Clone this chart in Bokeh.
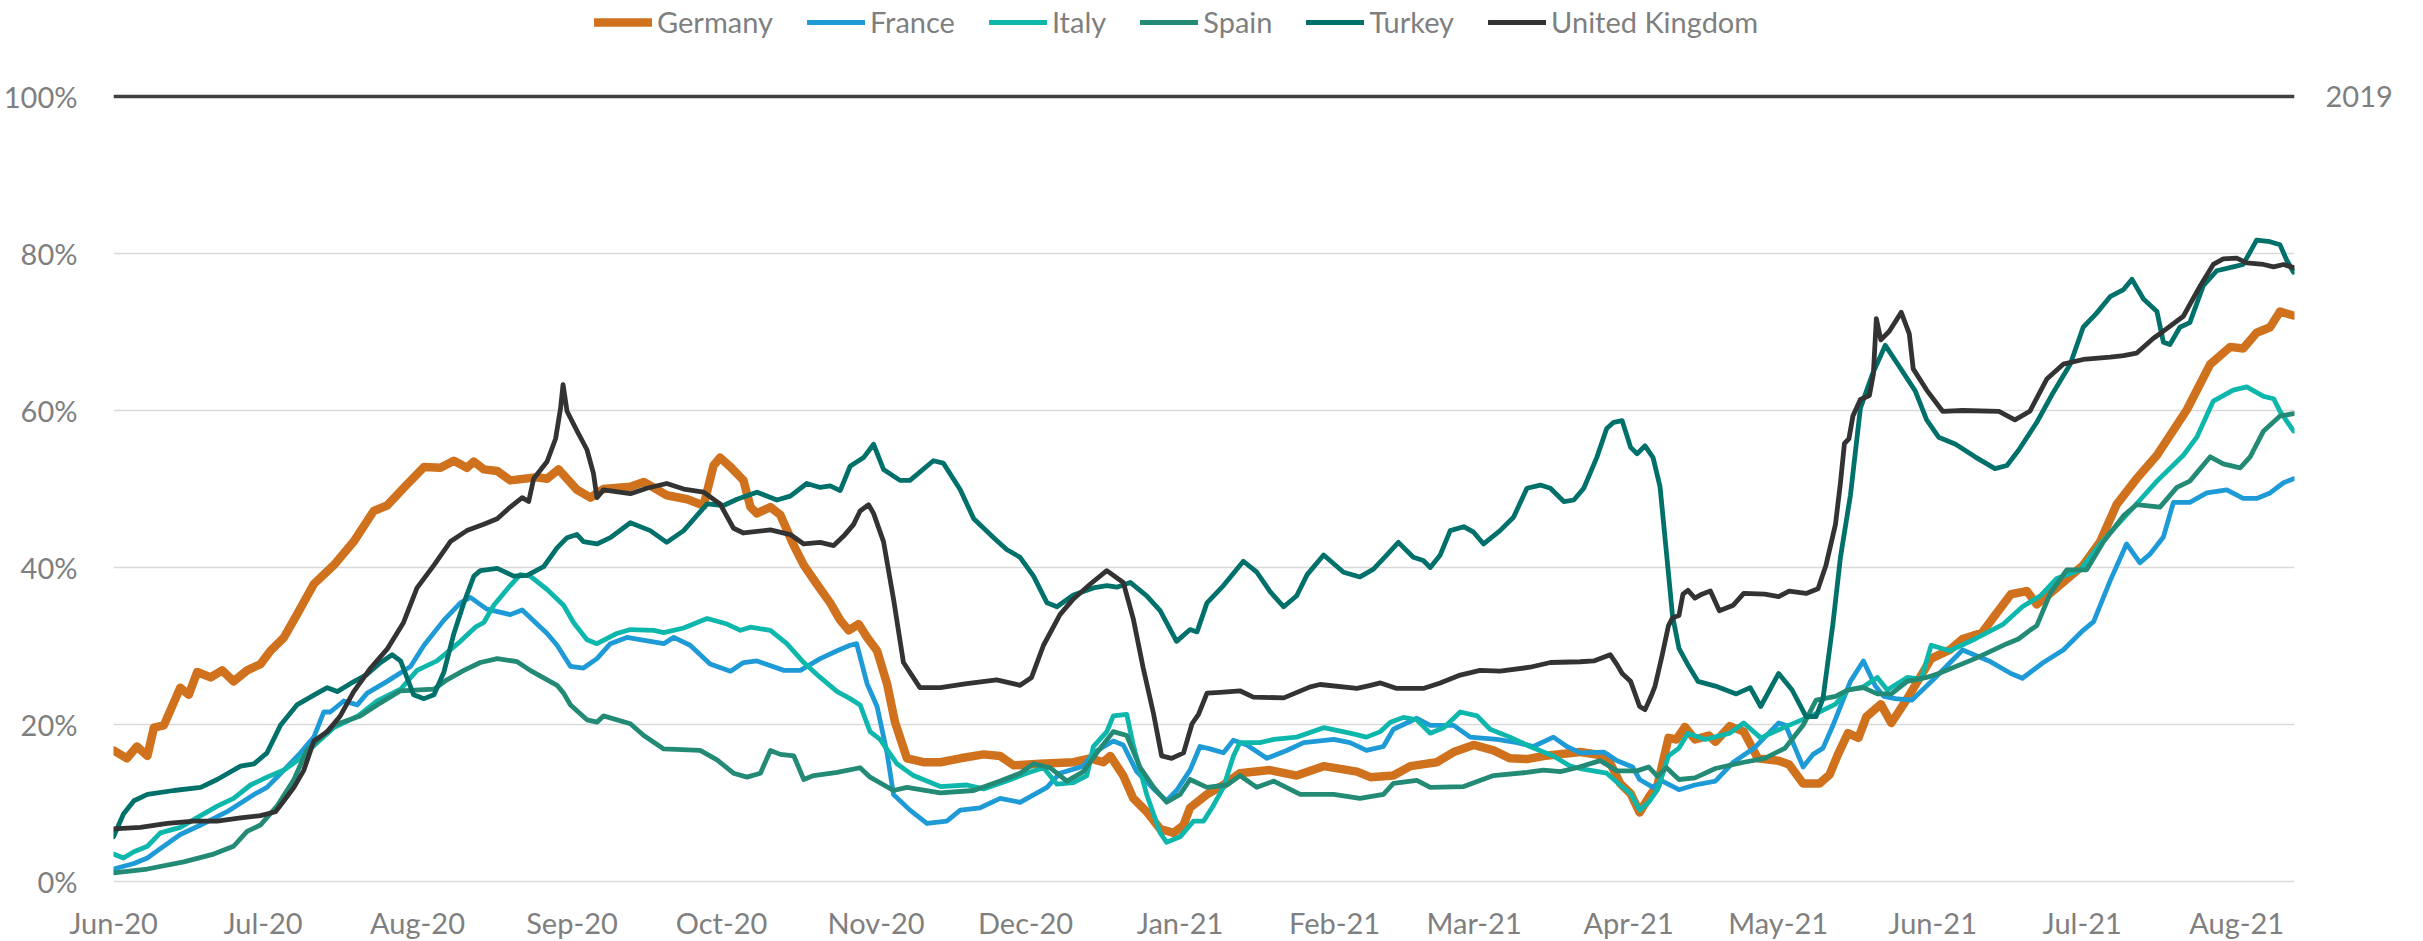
import numpy as np
import pandas as pd
from bokeh.plotting import figure
from bokeh.models import (Range1d, FixedTicker, LinearAxis, Span, Legend, LegendItem,
                          MonthsTicker, DatetimeTickFormatter)
from bokeh.embed import file_html
from bokeh.resources import INLINE

START = pd.Timestamp("2020-06-01")
END_DAY = 437.6

series_names = ["Germany", "France", "Italy", "Spain", "Turkey", "United Kingdom"]
series_colors = ["#D0711D", "#1E9BD7", "#0EB7AC", "#238A75", "#00706A", "#333333"]
series_widths = [8.5, 4.8, 4.8, 4.8, 4.8, 4.8]

y_ticks = [0, 20, 40, 60, 80, 100]
y_tick_labels = ["0%", "20%", "40%", "60%", "80%", "100%"]
baseline_value = 100
baseline_label = "2019"

germany_day = [0, 2.7, 4.7, 6.8, 8.1, 10.1, 13.4, 15.1, 16.8, 19.5, 21.8, 24.1, 26.8, 29.5, 31.5, 34.2, 36.8, 40.2, 44.2, 48.2, 52.2, 54.9, 58.9, 62.3, 65.6, 68.3, 70.9, 72.3,
               74.3, 77, 79.6, 85, 87, 89.3, 93, 95.7, 98.3, 103.7, 106.4, 111, 115.1, 118.4, 120.4, 121.7, 123.8, 126.4, 127.8, 129.1, 131.8, 133.8, 136.5, 138.5, 141.1, 143.8, 145.8,
               147.5, 149.5, 151.2, 153.2, 155.2, 156.8, 159.2, 162.5, 165.9, 169.9, 174.6, 177.9, 180.6, 185.9, 192.6, 196, 198.6, 200, 202.6, 204.6, 207.3, 210, 212.7, 214.7, 216, 219.4,
               222.7, 226, 232, 237.4, 242.8, 249.5, 252.2, 256.8, 260.2, 265.5, 268.9, 272.9, 276.9, 280.2, 283.6, 286.9, 294.3,
               299.6, 302.3, 304.4, 306.2, 308, 309.8, 312, 313.6, 315.3, 317.3, 320.1, 321.4, 324.3, 327.1, 329.9, 334.1, 336.2, 339, 342.3, 344.3, 346, 348, 350.1, 351.7, 354.6, 356.7, 359.9,
               364.7, 368.4, 371, 374.9, 377.5, 380.7, 383.9, 385.9, 390.6, 395.2, 398.6, 401.9, 405.9, 410, 416, 420.7, 424.7, 427.3, 430, 432.7, 434.7, 437.4]
germany_val = [16.7, 15.7, 17.2, 16.0, 19.6, 19.9, 24.7, 23.8, 26.7, 26.0, 26.9, 25.5, 26.9, 27.7, 29.4, 31.1, 34.0, 37.9, 40.3, 43.3, 47.2, 47.9, 50.6, 52.8, 52.7, 53.6, 52.7, 53.5,
               52.5, 52.3, 51.1, 51.5, 51.3, 52.5, 49.9, 48.9, 50, 50.3, 50.9, 49.2, 48.7, 47.9, 53, 54, 52.8, 51.1, 47.7, 46.9, 47.7, 46.7, 42.8, 40.3, 37.9, 35.5, 33.3,
               32, 32.8, 31.1, 29.4, 25.2, 20.3, 15.7, 15.2, 15.2, 15.7, 16.2, 16, 14.8, 15, 15.2, 15.7, 15.2, 16, 13.5, 10.6, 8.9, 6.7, 6.2, 7.2, 9.4, 11.1,
               12.3, 13.8, 14.2, 13.5, 14.7, 14, 13.3, 13.5, 14.7, 15.2, 16.5, 17.4, 16.7, 15.7, 15.6, 16, 16.5,
               16, 12.5, 11.2, 8.8, 10.7, 12.3, 18.3, 18.1, 19.7, 18.1, 18.6, 17.8, 19.8, 19.1, 15.7, 15.4, 14.9, 12.5, 12.5, 13.6, 16.2, 18.9, 18.3, 21, 22.6, 20.2, 23.3,
               28.4, 29.5, 30.9, 31.7, 33.9, 36.6, 37, 35.3, 37.8, 40.3, 43.3, 48, 51.3, 54.3, 60.1, 65.9, 68.1, 67.9, 69.9, 70.6, 72.6, 72.1]

france_day = [0, 4.1, 6.8, 9.4, 13.4, 17.5, 22.8, 28.2, 30.8, 34.2, 37.5, 40.2, 42.2, 43.5, 46.2, 48.9, 50.9, 54.9, 59.6, 62.3, 66.3, 69.6, 71.6,
              74.9, 79.6, 82, 87, 89, 91.7, 94.3, 97, 99.7, 103, 107.7, 110.4, 112.4, 115.7, 119.7, 123.8, 126.4, 129.1, 134.5, 137.8, 141.8, 145.2, 147.8,
              149.1, 151.2, 153.2, 155.2, 156.5, 159.8, 163.2, 167.2, 169.9, 173.9, 177.9, 181.9, 187.3, 189.9, 194.6, 196.6, 200.6, 202.6, 205.3, 208.7, 211.3, 213.3, 216, 218,
              220, 222.7, 224.7, 227.4, 231.4, 235.4, 238.8, 244.8, 248.1, 251.4, 254.8, 256.8, 261.5, 264.2, 268.9, 272.2, 277.6, 281.6, 284.9, 288.9, 291.6, 294.3,
              299, 301.7, 304.8, 306.2, 308.9, 310.75, 314.1, 317.3, 321.4, 325, 329.2, 334.1, 335.5, 339, 341, 343, 345, 346.5, 348.5, 351.1, 353.5, 355.2, 357.5, 360.8,
              365.4, 371, 376.3, 380.7, 383, 387.2, 391.2, 395.2, 397.3, 400.6, 403.9, 406.6, 408.6, 411.3, 413.3, 416.6, 420, 424, 427.3, 430, 432.7, 435.4, 437.4]
france_val = [1.6, 2.3, 3, 4.2, 6, 7.2, 8.9, 11.1, 12, 14.2, 16.4, 18.4, 21.6, 21.6, 23, 22.5, 24, 25.5, 27.4, 30.1, 33.3, 35.5, 36.2,
              34.7, 34, 34.6, 31.6, 30.1, 27.4, 27.2, 28.4, 30.3, 31.1, 30.6, 30.3, 31.1, 30.1, 27.7, 26.8, 27.9, 28.1, 26.9, 26.9, 28.4, 29.4, 30.1,
              30.3, 25.2, 22.3, 16.4, 11.1, 9.1, 7.4, 7.7, 9.1, 9.4, 10.6, 10.1, 12, 13.8, 14.7, 16.4, 17.9, 17.4, 14, 11.8, 10.3, 11.6, 14.2, 17.2,
              16.9, 16.4, 18, 17.4, 15.7, 16.7, 17.7, 18.1, 17.7, 16.7, 17.2, 19.4, 20.8, 19.9, 19.9, 18.4, 18.1, 17.7, 17.2, 18.4, 17.2, 16.4,
              16.5, 15.4, 14.6, 13, 12, 12.8, 11.7, 12.3, 12.8, 15.2, 17, 20.2, 19.9, 14.6, 16.2, 17, 19.9, 22.3, 25.5, 28.1, 24.9, 23.6, 23.3, 23.1,
              25.9, 29.5, 28.1, 26.5, 25.9, 27.9, 29.5, 32, 33.1, 38.3, 43, 40.6, 41.7, 43.9, 48.3, 48.3, 49.5, 49.9, 48.8, 48.8, 49.5, 50.8, 51.3]

italy_day = [0, 2, 4.1, 6.8, 9.4, 13.4, 17.5, 20.8, 24.1, 27.5, 30.8, 34.2, 37.5, 40.9, 44.2, 49.1, 52.9, 57.6, 60.9, 64.9, 69.6, 72.6,
             74.3, 76.3, 79.6, 81.6, 83.6, 87, 90.3, 92.3, 95, 97, 101, 103.7, 108.4, 110.4, 114.4, 119.1, 123.1, 125.8, 127.8, 131.8, 135.1, 138.5, 141.8, 145.2,
             147.8, 149.8, 151.8, 153.8, 157.2, 160.5, 165.9, 171.2, 174.6, 179.2, 183.2, 186.6, 189.3, 192.6, 195.3, 196.6, 199.3, 200.6, 203.3, 204.6, 207.3, 210, 211.3, 214, 216.7, 218.7,
             220.5, 222.7, 224.7, 226, 230, 232.8, 237.4, 242.8, 248.1, 251.4, 254.2, 256.2, 258.8, 261.5, 264.2, 266.9, 270.2, 273.6, 276.2, 280.2, 284.2, 288.9, 292.3, 294.3,
             299.6, 302.3, 304.4, 306.2, 308, 309.8, 312, 314.1, 315.9, 319.4, 324.3, 327.1, 330.5, 335.4, 341, 345.5, 348, 351.1, 353.9, 355.9, 359.9, 362.7,
             364.7, 368.4, 373.5, 379.2, 383, 386.6, 389.9, 394.6, 398.6, 402.6, 406.6, 410, 415.3, 418, 421.3, 425.3, 428, 431.4, 433.4, 434.7, 437.4]
italy_val = [3.5, 3, 3.8, 4.5, 6.2, 6.9, 8.4, 9.6, 10.6, 12.3, 13.3, 14.2, 15.7, 17.7, 19.6, 21.1, 23, 24.5, 26.9, 28.1, 30.6, 32.4,
             33, 35.2, 37.7, 39.1, 38.9, 37.2, 35.2, 33, 30.8, 30.3, 31.6, 32.1, 32, 31.7, 32.3, 33.5, 32.8, 32, 32.4, 32, 30.3, 27.9, 26, 24.2,
             23.3, 22.5, 19.1, 18.1, 15, 13.5, 12.1, 12.3, 11.8, 12.8, 13.8, 14.5, 12.4, 12.6, 13.5, 17.2, 19.1, 21.1, 21.3, 17.4, 11.1, 6.2, 5, 5.7, 7.7, 7.7,
             9.5, 12, 16, 17.7, 17.7, 18.1, 18.4, 19.6, 18.9, 18.4, 19.1, 20.3, 20.9, 20.6, 18.9, 19.6, 21.6, 21.1, 19.4, 18.4, 17.2, 16, 14.7, 14.4,
             13.8, 12.3, 11.2, 9.1, 10.1, 11.7, 16, 17, 18.9, 18.1, 18.9, 20.2, 18.3, 19.7, 21.2, 22.6, 24.4, 24.8, 26, 24.4, 26, 25.8,
             30.1, 29.4, 30.9, 32.8, 35, 36.4, 38.6, 39.7, 43, 45.8, 48.6, 51, 54.3, 56.6, 61.2, 62.6, 63, 61.8, 61.5, 59.9, 57.4]

spain_day = [0, 6.8, 14.1, 20.1, 24.1, 26.8, 29.5, 32.8, 36.2, 38.8, 44.2, 49.5, 52.9, 57.6, 64.3, 66.9, 70.3, 73.6,
             77, 81, 83.6, 89, 90.3, 91.7, 95, 97, 98.3, 103.7, 106.4, 110.4, 117.7, 121.1, 124.4, 127.1, 129.8, 131.8, 133.8, 136.5, 138.5, 140.5, 145.2,
             149.8, 151.8, 156.5, 159.2, 165.9, 172.6, 177.9, 181.9, 184.6, 187.9, 191.3, 194.6, 197.3, 200.6, 203.3, 206, 208.7, 211.3, 214, 216, 219.4,
             223.4, 226, 229.4, 232.8, 238.1, 244.8, 250.1, 254.8, 256.8, 261.5, 264.2, 270.9, 276.9, 283.6, 286.9, 290.3, 293.6,
             298.3, 301.7, 305.7, 308, 309.8, 311.6, 314.1, 317.3, 321.4, 327.1, 331.3, 335.4, 339, 341.6, 345.5, 348, 351.1, 353.9, 356.7, 359.9, 363.8,
             366.2, 373.5, 379.9, 382.2, 384.5, 385.9, 388.6, 391.9, 395.9, 399.3, 403.3, 405.9, 410.6, 414, 416.6, 420.7, 423.3, 426.7, 428.7, 431.4, 434.7, 437.4]
spain_val = [1.1, 1.6, 2.5, 3.5, 4.5, 6.4, 7.2, 9.6, 13, 16.7, 19.9, 21.1, 22.5, 24.3, 24.5, 25.7, 26.9, 27.9,
             28.4, 28, 26.9, 25, 24, 22.5, 20.6, 20.3, 21.1, 20.1, 18.6, 16.9, 16.7, 15.5, 13.8, 13.3, 13.8, 16.7, 16.2, 16, 13, 13.5, 13.9,
             14.5, 13.3, 11.6, 12, 11.3, 11.6, 12.8, 13.8, 15, 14.5, 12.8, 14, 16.4, 19.1, 18.6, 14.5, 12, 10.1, 11.1, 13, 12,
             12.3, 13.5, 12, 12.8, 11.1, 11.1, 10.6, 11.1, 12.5, 12.9, 12, 12.1, 13.5, 13.9, 14.2, 14, 14.5,
             15.4, 14.1, 14.1, 14.6, 13.4, 14.5, 13, 13.2, 14.4, 15.2, 15.7, 17, 19.9, 23.1, 23.6, 24.4, 24.7, 23.9, 23.9, 25.5, 26,
             26.5, 28.4, 30.3, 30.9, 32, 32.6, 36.7, 39.7, 39.7, 43.3, 46.6, 48, 47.7, 50.2, 51, 54.1, 53.2, 52.7, 54.1, 57.4, 59.3, 59.6]

turkey_day = [0, 2, 4.1, 6.8, 12.1, 17.5, 20.8, 25.5, 28.2, 30.8, 33.5, 36.8, 40.9, 42.9, 44.9, 47.5, 50.9, 53.6, 55.9, 57.6, 60.2, 62.3, 64.3, 66.3, 68.3, 70.3, 72.3,
              73.6, 77, 80.3, 83, 86.3, 89, 91, 93, 94.3, 97, 99.7, 103.7, 107.7, 111, 114.4, 119.1, 122.4, 125.1, 129.1, 133.1, 135.8, 139.1, 141.8, 143.8, 145.8,
              147.8, 150.5, 152.5, 154.5, 157.8, 159.8, 164.5, 166.5, 169.9, 172.6, 176.6, 179.2, 181.9, 184.6, 187.3, 189.3, 192.6, 196.6, 199.3, 201.3, 204, 207.3, 210, 213.3, 216, 217.4, 219.4,
              222.7, 226.7, 229.4, 232.1, 234.8, 237.4, 239.5, 242.8, 246.8, 250.1, 252.8, 255.5, 257.8, 260.8, 262.8, 264.2, 266.2, 268.2, 270.9, 272.9, 274.9, 278.2, 280.9, 283.6, 286.3, 288.3, 291, 293, 295,
              297.6, 299.6, 301, 302.7, 304.4, 305.7, 307.3, 308.9, 310.3, 311.6, 312.8, 314.1, 315.9, 317.9, 321.4, 325.6, 328.4, 330.5, 334.1, 336.8, 339.6, 341.6, 343, 345, 346.5, 348.5, 350.5, 352.9, 355.5, 358.3, 361.5,
              363.8, 366.2, 369.6, 373.5, 377.5, 379.9, 382.2, 385.9, 389.2, 392.6, 395.2, 397.9, 400.6, 403.3, 405, 407.3, 410, 411.3, 412.6, 414.6, 416.6, 419.3, 422, 425.3, 427.3, 430, 432.7, 434.7, 436, 437.4]
turkey_val = [5.7, 8.6, 10.3, 11.1, 11.6, 12, 13, 14.7, 15, 16.4, 19.9, 22.5, 24, 24.7, 24.2, 25.2, 26.4, 27.9, 28.9, 28.1, 23.8, 23.3, 23.8, 26.7, 31.6, 35.5, 38.9,
              39.6, 39.9, 38.9, 39, 40.1, 42.5, 43.8, 44.2, 43.3, 43, 43.8, 45.7, 44.7, 43.2, 44.7, 48.1, 47.9, 48.7, 49.6, 48.6, 49.1, 50.7, 50.2, 50.4, 49.8,
              52.9, 54, 55.7, 52.5, 51.1, 51.1, 53.6, 53.3, 49.9, 46.2, 43.8, 42.3, 41.3, 38.9, 35.5, 35, 36.5, 37.4, 37.7, 37.5, 38.1, 36.4, 34.5, 30.6, 32.1, 31.8, 35.5,
              37.7, 40.8, 39.4, 36.9, 35, 36.4, 39.1, 41.6, 39.4, 38.8, 39.8, 41.6, 43.2, 41.3, 40.9, 40, 41.6, 44.7, 45.2, 44.5, 43, 44.7, 46.4, 50.1, 50.5, 50.1, 48.4, 48.6, 50.1,
              54, 57.7, 58.5, 58.7, 55.3, 54.5, 55.5, 54, 50.3, 41.8, 33.9, 29.7, 27.6, 25.5, 24.9, 23.9, 24.7, 22.3, 26.5, 24.4, 21, 21, 23.3, 32.9, 41.3, 49.2, 60.3, 64.6, 68.3, 65.6, 62.5,
              58.8, 56.6, 55.7, 54.1, 52.6, 53, 54.9, 58.5, 62.3, 65.9, 70.6, 72.4, 74.5, 75.4, 76.7, 74.2, 72.6, 68.7, 68.4, 70.6, 71.2, 75.9, 77.8, 78.3, 78.6, 81.7, 81.5, 81.1, 79.2, 77.6]

uk_day = [0, 5.4, 10.8, 16.1, 20.8, 25.5, 29.5, 32.5, 34.2, 36.2, 38.2, 40.2, 42.9, 45.5, 48.2, 51.6, 54.9, 58.2, 60.9, 64.3, 67.6, 70.9,
          74.3, 77, 79.6, 82, 83.3, 84.3, 87, 88.7, 89.7, 90.2, 91, 93, 95, 96.3, 97, 98.3, 103.7, 107, 111, 114.4, 118.4, 121.7, 124.4, 126.4, 131.8, 135.8, 138.5, 141.8, 144.5,
          146.5, 148.5, 149.8, 151.5, 152.5, 154.5, 156.5, 158.5, 161.8, 165.9, 171.2, 177.2, 181.9, 184.2, 186.6, 189.9, 192.6, 196, 199.3, 202.6, 204.6, 206.6, 208.7, 210.3, 212.3, 214.7, 216.4, 217.7, 219.4,
          222, 226, 228.7, 234.8, 240.1, 242.1, 249.5, 252.2, 254.2, 257.5, 262.8, 266.2, 270.2, 274.2, 278.2, 284.2, 288.3, 294.3,
          297, 300.3, 301.7, 302.7, 304.4, 306.2, 307.3, 308.5, 309.3, 310.75, 312, 312.8, 314.1, 314.9, 315.9, 317.3, 318.7, 320.4, 322.2, 325, 327.1, 331.3, 334.1, 336.2, 339.6, 342,
          343.6, 345.5, 346.5, 347.3, 348.2, 349, 350.5, 352.3, 353.1, 353.7, 354.6, 356.3, 358.7, 360.3, 361.1,
          363.8, 367, 371, 378.3, 381.5, 384.5, 387.9, 391.2, 395.2, 400.6, 403.3, 405.9, 409.3, 411.3, 415.3, 418.7, 421.3, 423.3, 426, 428, 431.4, 433.4, 435.4, 437.4]
uk_val = [6.7, 6.9, 7.4, 7.7, 7.7, 8.1, 8.4, 8.9, 10.3, 12, 14.2, 17.9, 19.1, 21.1, 24.2, 27.2, 29.6, 33, 37.4, 40.3, 43.3, 44.7,
          45.5, 46.2, 47.7, 48.9, 48.4, 51.3, 53.5, 56.4, 60.3, 63.3, 59.9, 57.4, 55, 52, 48.9, 49.9, 49.4, 50.1, 50.7, 50, 49.6, 48.1, 45, 44.4, 44.8, 44.2, 43, 43.2, 42.8,
          44, 45.5, 47.2, 48, 46.9, 43.3, 36, 27.9, 24.7, 24.7, 25.2, 25.7, 25, 26, 30.1, 34, 36, 37.9, 39.6, 38.1, 33.5, 27.2, 21.3, 16, 15.7, 16.4, 20.1, 21.3, 24,
          24.1, 24.3, 23.5, 23.4, 24.8, 25.1, 24.6, 25, 25.3, 24.6, 24.6, 25.3, 26.3, 26.9, 26.8, 27.3, 27.9, 28,
          28.1, 28.9, 27.6, 26.5, 25.5, 22.3, 21.9, 23.6, 24.9, 28.9, 32.6, 33.6, 33.9, 36.6, 37.1, 36.1, 36.6, 37, 34.5, 35.2, 36.7, 36.6, 36.3, 37, 36.7, 37.3,
          40.3, 45.5, 50.8, 55.8, 56.4, 59.3, 61.4, 61.9, 64.6, 71.7, 69, 70.1, 72.5, 69.8, 65.3,
          62.6, 59.9, 60, 59.9, 58.8, 59.9, 64, 65.9, 66.5, 66.8, 67, 67.3, 69.2, 70.1, 72, 75.9, 78.6, 79.3, 79.4, 78.8, 78.6, 78.3, 78.6, 78.2]

series_days = [germany_day, france_day, italy_day, spain_day, turkey_day, uk_day]
series_vals = [germany_val, france_val, italy_val, spain_val, turkey_val, uk_val]


def to_dates(days):
    return (START + pd.to_timedelta(np.asarray(days, dtype=float), unit="D")).to_numpy()


FONT = "Lato"
TEXT_COLOR = "#7F7F7F"
FS = "29px"

p = figure(x_axis_type="datetime", frame_width=2181, frame_height=885,
           min_border_left=105, min_border_right=115, min_border_top=0, min_border_bottom=45,
           x_range=Range1d(START, START + pd.Timedelta(days=END_DAY)),
           y_range=Range1d(-0.5, 112.22),
           output_backend="svg", toolbar_location=None, background_fill_color="white",
           border_fill_color="white", outline_line_color=None)

p.xgrid.grid_line_color = None
p.ygrid.ticker = FixedTicker(ticks=y_ticks[:-1])
p.ygrid.grid_line_color = "#D9D9D9"
p.ygrid.grid_line_width = 1.5

p.add_layout(Span(location=baseline_value, dimension="width", line_color="#404040", line_width=3.5))

renderers = []
for name, color, width, days, vals in zip(series_names, series_colors, series_widths, series_days, series_vals):
    r = p.line(to_dates(days), vals, line_color=color, line_width=width,
               line_join="round", line_cap="round")
    renderers.append(r)

legend = Legend(items=[LegendItem(label=n, renderers=[r]) for n, r in zip(series_names, renderers)],
                orientation="horizontal", location=(481, 846),
                label_text_font=FONT, label_text_font_size=FS, label_text_color=TEXT_COLOR,
                glyph_width=58, glyph_height=30, label_standoff=5, spacing=34,
                padding=0, margin=0, border_line_color=None, background_fill_alpha=0)
p.add_layout(legend)

xa = p.xaxis[0]
xa.ticker = MonthsTicker(months=list(range(12)))
xa.formatter = DatetimeTickFormatter(months="%b-%y", days="%b-%y", years="%b-%y")
ya = p.yaxis[0]
ya.ticker = FixedTicker(ticks=y_ticks)
ya.major_label_overrides = dict(zip(y_ticks, y_tick_labels))

ra = LinearAxis(ticker=FixedTicker(ticks=[baseline_value]),
                major_label_overrides={baseline_value: baseline_label})
p.add_layout(ra, "right")

for ax in (xa, ya, ra):
    ax.axis_line_color = None
    ax.major_tick_line_color = None
    ax.minor_tick_line_color = None
    ax.major_label_text_font = FONT
    ax.major_label_text_font_size = FS
    ax.major_label_text_color = TEXT_COLOR
xa.major_label_standoff = 13
ya.major_label_standoff = 30
ra.major_label_standoff = 25

open("out.html", "w").write(file_html(p, INLINE))
